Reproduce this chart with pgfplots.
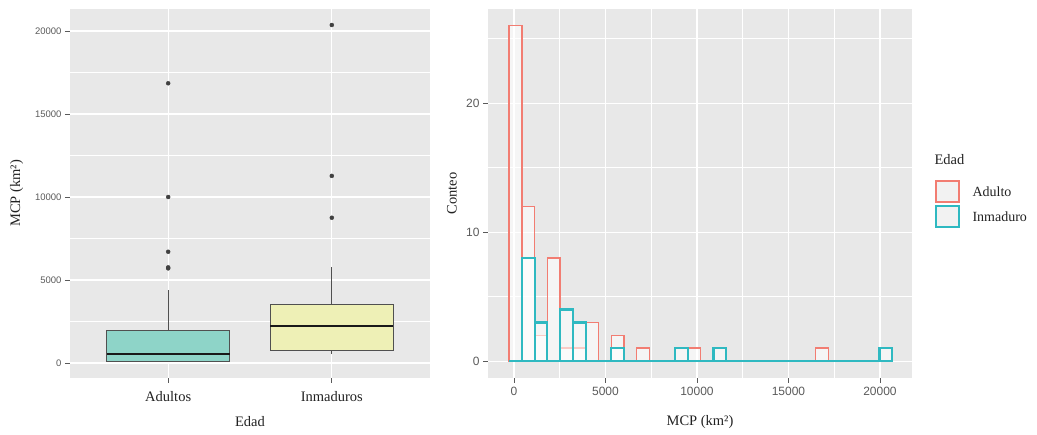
\documentclass[border=0pt]{standalone}
\usepackage{fontspec}
\setmainfont{Liberation Serif}
\newfontfamily\ticksans{Liberation Sans}
\usepackage{pgfplots}
\pgfplotsset{compat=1.18}
\definecolor{panelbg}{HTML}{E8E8E8}
\definecolor{tickgrey}{HTML}{5A5A5A}
\definecolor{boxedge}{HTML}{505050}
\definecolor{ptgrey}{HTML}{404040}
\definecolor{boxA}{HTML}{8ED4C8}
\definecolor{boxI}{HTML}{EEF0B6}
\definecolor{redA}{HTML}{F27D72}
\definecolor{cyanI}{HTML}{2FB9C1}
\definecolor{keybg}{HTML}{F2F2F2}
\definecolor{labtext}{HTML}{222222}
\pgfplotstableread{
x a i
80 26 0
778 12 8
1476 2 3
2174 8 0
2872 1 4
3570 1 3
4268 3 0
4966 0 0
5664 2 1
6362 0 0
7060 1 0
7758 0 0
8456 0 0
9154 0 1
9852 1 0
10550 0 0
11248 0 1
11946 0 0
12644 0 0
13342 0 0
14040 0 0
14738 0 0
15436 0 0
16134 0 0
16832 1 0
17530 0 0
18228 0 0
18926 0 0
19624 0 0
20322 0 1
}\histdata
\begin{document}
\begin{tikzpicture}
\useasboundingbox (0pt,0pt) rectangle (1037pt,435pt);
\pgfplotsset{
  ggstyle/.style={
    scale only axis,
    scaled x ticks=false, scaled y ticks=false,
    axis background/.style={fill=panelbg},
    axis line style={draw=none},
    grid=both,
    major grid style={white, line width=1.1pt},
    minor grid style={white, line width=0.5pt},
    tick align=outside,
    major tick length=5pt,
    minor tick length=0pt,
    xtick pos=left, ytick pos=left,
    tick style={tickgrey, line width=0.7pt},
    ticklabel style={text=tickgrey},
    label style={font=\fontsize{14.5}{15}\selectfont, text=labtext},
  }
}
% ---------------- left: boxplots ----------------
\begin{axis}[ggstyle,
  at={(70pt,57pt)}, anchor=south west, width=360pt, height=369pt,
  xmin=0.4, xmax=2.6, ymin=-904, ymax=21325,
  xtick={1,2}, xticklabels={Adultos,Inmaduros},
  xticklabel style={font=\fontsize{14.5}{15}\selectfont, text=labtext, yshift=-5pt},
  ytick={0,5000,10000,15000,20000},
  yticklabels={0,5000,10000,15000,20000},
  minor ytick={2500,7500,12500,17500},
  yticklabel style={font=\ticksans\fontsize{9.5}{10}\selectfont},
  xlabel={Edad}, ylabel={MCP (km²)},
  xlabel style={at={(axis description cs:0.5,-0.119)}, anchor=center},
  ylabel style={at={(axis description cs:-0.148,0.5)}, anchor=center},
]
% Adultos: whiskers, box, median, outliers
\addplot[boxedge, line width=0.9pt] coordinates {(1,1950) (1,4400)};
\addplot[boxedge, line width=0.9pt] coordinates {(1,80) (1,120)};
\addplot[boxedge, line width=0.9pt, fill=boxA] coordinates {(0.625,120) (1.375,120) (1.375,1950) (0.625,1950)} -- cycle;
\addplot[black!90, line width=1.9pt] coordinates {(0.625,540) (1.375,540)};
\addplot[only marks, mark=*, mark size=2pt, ptgrey] coordinates {(1,5700) (1,5760) (1,6700) (1,10000) (1,16850)};
% Inmaduros
\addplot[boxedge, line width=0.9pt] coordinates {(2,3510) (2,5800)};
\addplot[boxedge, line width=0.9pt] coordinates {(2,540) (2,780)};
\addplot[boxedge, line width=0.9pt, fill=boxI] coordinates {(1.625,780) (2.375,780) (2.375,3510) (1.625,3510)} -- cycle;
\addplot[black!90, line width=1.9pt] coordinates {(1.625,2250) (2.375,2250)};
\addplot[only marks, mark=*, mark size=2pt, ptgrey] coordinates {(2,8750) (2,11270) (2,20360)};
\end{axis}
% ---------------- right: histogram ----------------
\begin{axis}[ggstyle,
  at={(488pt,57pt)}, anchor=south west, width=424pt, height=369pt,
  xmin=-1420, xmax=21750, ymin=-1.31, ymax=27.3,
  xtick={0,5000,10000,15000,20000},
  xticklabels={0,5000,10000,15000,20000},
  minor xtick={2500,7500,12500,17500},
  ytick={0,10,20}, yticklabels={0,10,20},
  minor ytick={5,15,25},
  ticklabel style={font=\ticksans\fontsize{12}{12}\selectfont},
  xticklabel style={yshift=-1pt},
  xlabel={MCP (km²)}, ylabel={Conteo},
  xlabel style={at={(axis description cs:0.5,-0.12)}, anchor=center},
  ylabel style={at={(axis description cs:-0.085,0.5)}, anchor=center},
]
\addplot[ybar, bar width=698, bar shift=0pt, draw=redA, line width=1.4pt,
  fill=white, fill opacity=0.6] table[x=x, y=a] {\histdata};
\addplot[ybar, bar width=698, bar shift=0pt, draw=cyanI, line width=2.2pt,
  fill=white, fill opacity=0.6] table[x=x, y=i] {\histdata};
\end{axis}
% ---------------- legend ----------------
\node[anchor=west, font=\fontsize{14.5}{15}\selectfont, text=labtext] at (931pt,275pt) {Edad};
\draw[redA, line width=1.4pt, fill=keybg] (936pt,233pt) rectangle (959pt,254pt);
\draw[cyanI, line width=2.2pt, fill=keybg] (936pt,208pt) rectangle (959pt,229pt);
\node[anchor=west, font=\fontsize{14}{15}\selectfont, text=labtext] at (969pt,243pt) {Adulto};
\node[anchor=west, font=\fontsize{14}{15}\selectfont, text=labtext] at (969pt,218pt) {Inmaduro};
\end{tikzpicture}
\end{document}
